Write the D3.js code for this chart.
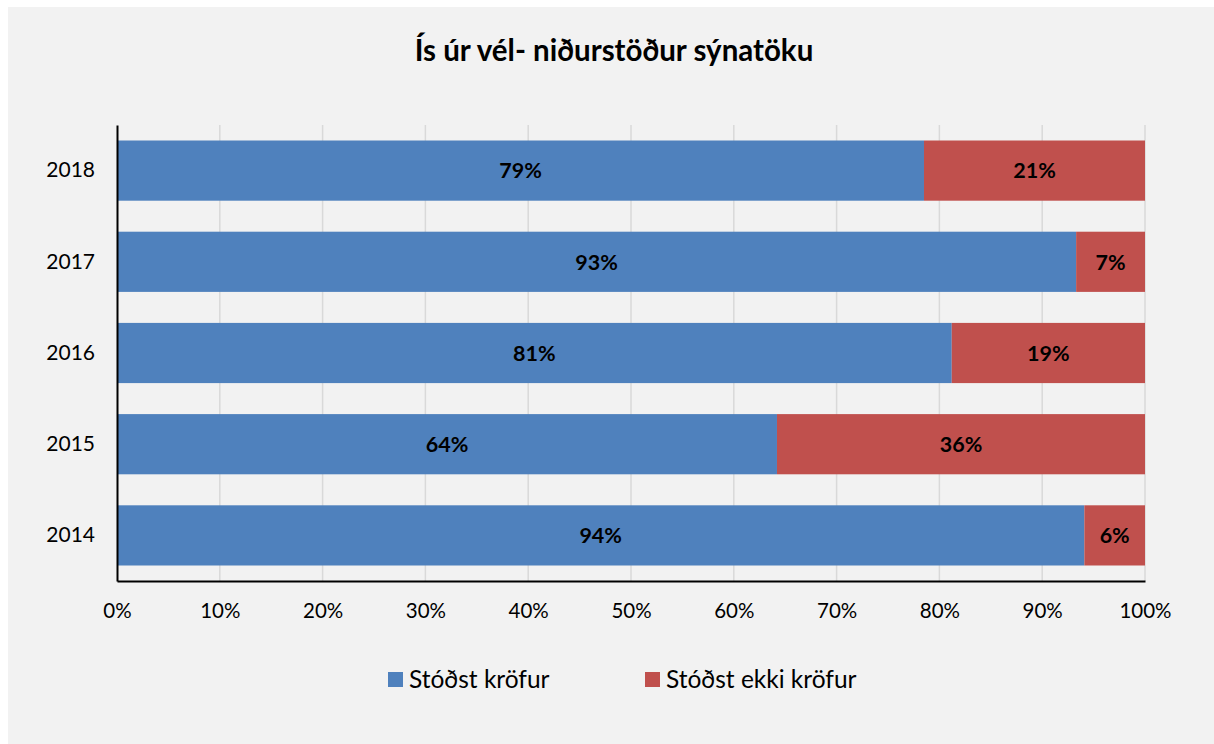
<!DOCTYPE html>
<html>
<head>
<meta charset="utf-8">
<script src="https://cdn.jsdelivr.net/npm/d3@7"></script>
<style>
  html, body { margin: 0; padding: 0; background: #ffffff; }
  svg { display: block; }
</style>
</head>
<body>
<svg id="chart" width="1214" height="744"></svg>
<script>
// ---- Data ----
const title = "Ís úr vél- niðurstöður sýnatöku";
const years = ["2018", "2017", "2016", "2015", "2014"];
const passed = [78.5, 93.3, 81.2, 64.2, 94.1];
const failed = [21.5, 6.7, 18.8, 35.8, 5.9];
const passedLabels = ["79%", "93%", "81%", "64%", "94%"];
const failedLabels = ["21%", "7%", "19%", "36%", "6%"];
const seriesNames = ["Stóðst kröfur", "Stóðst ekki kröfur"];
const xTicks = [0, 10, 20, 30, 40, 50, 60, 70, 80, 90, 100];

const colors = ["#4f81bd", "#c0504d"];
const font = "Lato, 'Open Sans', sans-serif";

const svg = d3.select("#chart");
svg.append("rect").attr("x", 8).attr("y", 7).attr("width", 1206).attr("height", 737).attr("fill", "#f2f2f2");

const plotLeft = 117, plotRight = 1145, plotTop = 125, plotBottom = 581;
const x = d3.scaleLinear().domain([0, 100]).range([plotLeft, plotRight]);
const y = d3.scaleBand().domain(years).range([plotTop, plotBottom]).paddingInner(0.34).paddingOuter(0.17);

// gridlines
svg.append("g").selectAll("line").data(xTicks.slice(1)).join("line")
  .attr("x1", d => x(d)).attr("x2", d => x(d))
  .attr("y1", plotTop).attr("y2", plotBottom)
  .attr("stroke", "#d9d9d9").attr("stroke-width", 1.5);

const rows = years.map((yr, i) => ({yr, p: passed[i], f: failed[i], pl: passedLabels[i], fl: failedLabels[i]}));

const g = svg.append("g");
g.selectAll("rect.p").data(rows).join("rect").attr("class", "p")
  .attr("x", x(0)).attr("y", d => y(d.yr))
  .attr("width", d => x(d.p) - x(0)).attr("height", y.bandwidth())
  .attr("fill", colors[0]);
g.selectAll("rect.f").data(rows).join("rect").attr("class", "f")
  .attr("x", d => x(d.p)).attr("y", d => y(d.yr))
  .attr("width", d => x(d.p + d.f) - x(d.p)).attr("height", y.bandwidth())
  .attr("fill", colors[1]);

g.selectAll("text.pl").data(rows).join("text").attr("class", "pl")
  .attr("x", d => x(d.p / 2)).attr("y", d => y(d.yr) + y.bandwidth() / 2)
  .attr("dy", "0.36em").attr("text-anchor", "middle")
  .attr("font-family", font).attr("font-size", 21.5).attr("font-weight", "bold").attr("fill", "#000")
  .text(d => d.pl);
g.selectAll("text.fl").data(rows).join("text").attr("class", "fl")
  .attr("x", d => x(d.p + d.f / 2)).attr("y", d => y(d.yr) + y.bandwidth() / 2)
  .attr("dy", "0.36em").attr("text-anchor", "middle")
  .attr("font-family", font).attr("font-size", 21.5).attr("font-weight", "bold").attr("fill", "#000")
  .text(d => d.fl);

// axes
const xAxis = d3.axisBottom(x).tickValues(xTicks).tickFormat(d => d + "%").tickSize(0).tickPadding(22);
const xg = svg.append("g").attr("transform", `translate(0,${plotBottom})`).call(xAxis);
xg.select(".domain").attr("stroke", "#000").attr("stroke-width", 2);
xg.selectAll("text").attr("font-family", font).attr("font-size", 20.5).attr("fill", "#000");

const yAxis = d3.axisLeft(y).tickSize(0).tickPadding(22);
const yg = svg.append("g").attr("transform", `translate(${plotLeft},0)`).call(yAxis);
yg.select(".domain").attr("stroke", "#000").attr("stroke-width", 2);
yg.selectAll("text").attr("font-family", font).attr("font-size", 21).attr("fill", "#000");

// title
svg.append("text").attr("x", 614).attr("y", 61).attr("text-anchor", "middle")
  .attr("font-family", font).attr("font-size", 29.5).attr("font-weight", "bold").attr("fill", "#000")
  .text(title);

// legend
const legendX = [388, 645];
const lg = svg.append("g");
seriesNames.forEach((name, i) => {
  lg.append("rect").attr("x", legendX[i]).attr("y", 672).attr("width", 15).attr("height", 15).attr("fill", colors[i]);
  lg.append("text").attr("x", legendX[i] + 21).attr("y", 688)
    .attr("font-family", font).attr("font-size", 24.5).attr("fill", "#000").text(name);
});
</script>
</body>
</html>
